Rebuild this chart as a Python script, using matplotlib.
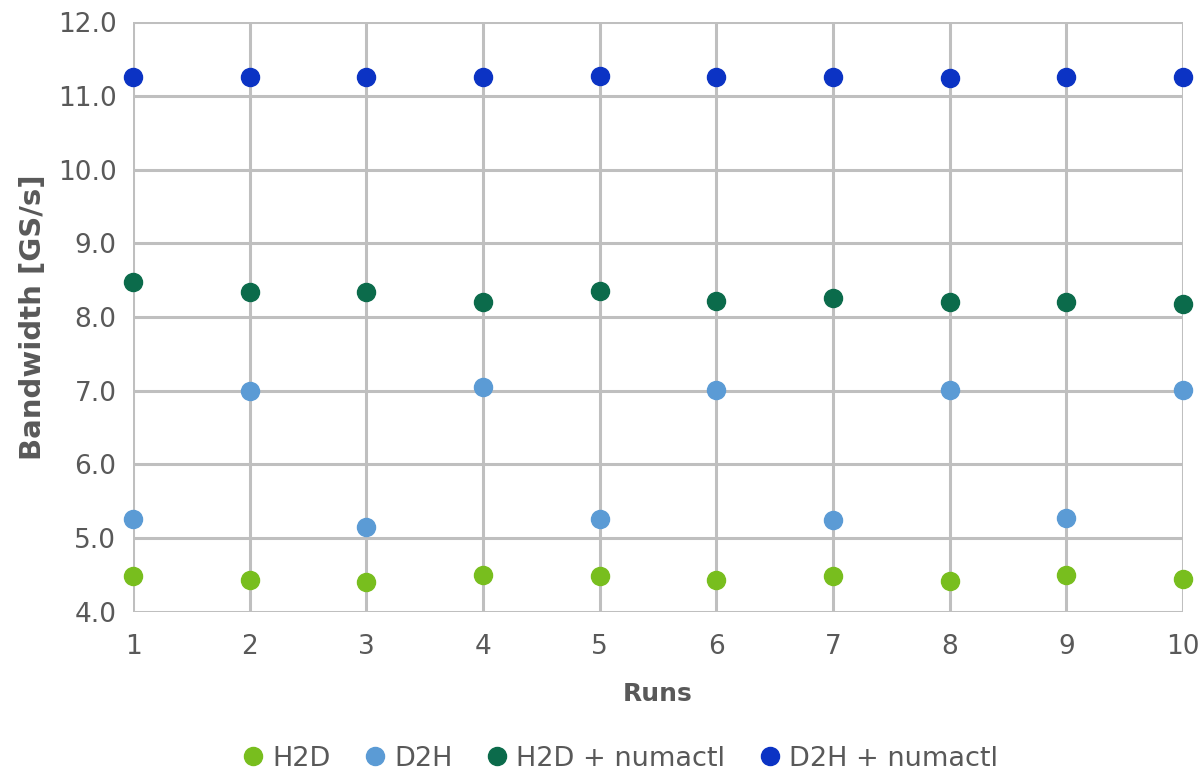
import matplotlib.pyplot as plt
from matplotlib.ticker import FormatStrFormatter

runs = [1, 2, 3, 4, 5, 6, 7, 8, 9, 10]
h2d = [4.49, 4.43, 4.41, 4.50, 4.49, 4.43, 4.49, 4.42, 4.50, 4.45]
d2h = [5.26, 6.99, 5.15, 7.05, 5.26, 7.01, 5.25, 7.01, 5.27, 7.01]
h2d_numactl = [8.47, 8.34, 8.34, 8.21, 8.35, 8.22, 8.26, 8.20, 8.20, 8.18]
d2h_numactl = [11.25, 11.25, 11.25, 11.25, 11.27, 11.25, 11.25, 11.24, 11.25, 11.25]

labels = ['H2D', 'D2H', 'H2D + numactl', 'D2H + numactl']
colors = ['#78BE1E', '#5B9BD5', '#0B6B4B', '#0B33C4']

plt.rcParams['font.family'] = ['DejaVu Sans']
text_color = '#595959'

fig = plt.figure(figsize=(12.02, 7.73), dpi=100)
ax = fig.add_axes([0.1107, 0.2083, 0.8735, 0.7632])

for series, label, color in zip([h2d, d2h, h2d_numactl, d2h_numactl], labels, colors):
    ax.plot(runs, series, 'o', color=color, markersize=13, label=label,
            clip_on=False, zorder=3)

ax.set_xlim(1, 10)
ax.set_ylim(4, 12)
ax.set_xticks(runs)
ax.set_yticks([4, 5, 6, 7, 8, 9, 10, 11, 12])
ax.yaxis.set_major_formatter(FormatStrFormatter('%.1f'))
ax.grid(True, color='#BFBFBF', linewidth=2.2)
ax.set_axisbelow(True)
for s in ax.spines.values():
    s.set_visible(False)
ax.tick_params(length=0, labelsize=19, labelcolor=text_color)
ax.tick_params(axis='y', pad=12)
ax.tick_params(axis='x', pad=16)

ax.set_xlabel('Runs', fontsize=18, fontweight='bold', color=text_color, labelpad=16)
ax.set_ylabel('Bandwidth [GS/s]', fontsize=21, fontweight='bold', color=text_color, labelpad=8)

fig.legend(loc='lower center', bbox_to_anchor=(0.509, -0.03), ncol=4, frameon=False,
           fontsize=19.5, labelcolor=text_color, handletextpad=-0.3, columnspacing=0.65,
           markerscale=1.0)

fig.savefig('out.png', dpi=100)
